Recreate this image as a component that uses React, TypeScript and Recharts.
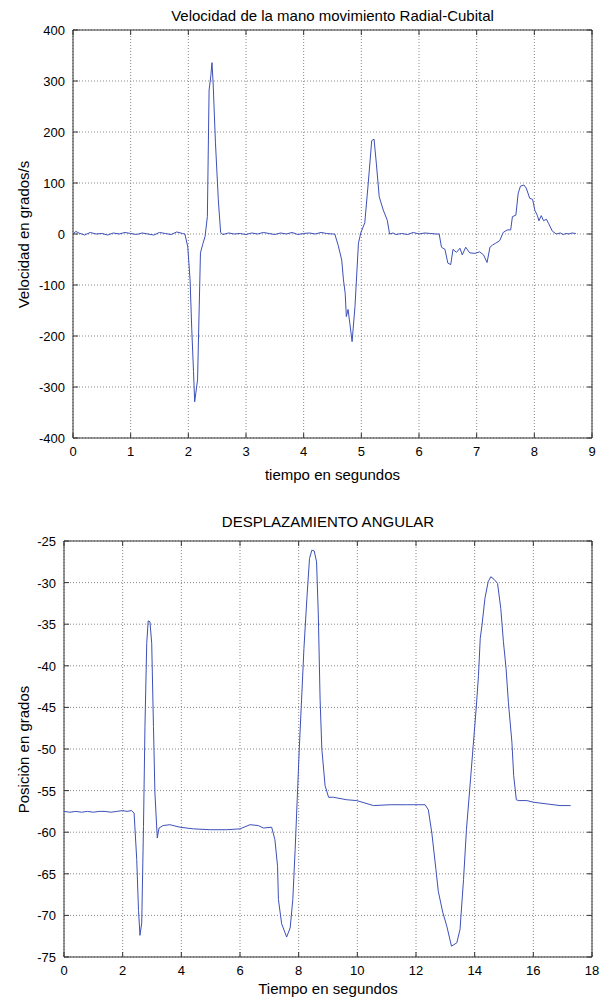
import React from 'react';
import {
  LineChart,
  Line,
  XAxis,
  YAxis,
  CartesianGrid,
  ReferenceArea,
} from 'recharts';

// Velocidad (grados/s) vs tiempo (s)
const velTime = [
  0, 0.05, 0.1, 0.2, 0.3, 0.4, 0.5, 0.6, 0.7, 0.8, 0.9, 1.0, 1.1, 1.2, 1.3, 1.4, 1.5, 1.6, 1.7, 1.8, 1.9,
  1.94, 1.99, 2.03, 2.06, 2.09, 2.11, 2.16, 2.21, 2.25, 2.29, 2.33, 2.36, 2.39, 2.41, 2.43, 2.47, 2.52, 2.56,
  2.6, 2.7, 2.8, 2.9, 3.0, 3.1, 3.2, 3.3, 3.4, 3.5, 3.6, 3.7, 3.8, 3.9, 4.0, 4.1, 4.2, 4.3, 4.4, 4.5,
  4.54, 4.6, 4.66, 4.69, 4.72, 4.74, 4.77, 4.8, 4.84, 4.89, 4.95, 4.99, 5.06, 5.12, 5.18, 5.22, 5.26, 5.31,
  5.38, 5.45, 5.49, 5.55, 5.6, 5.7, 5.8, 5.9, 6.0, 6.1, 6.2, 6.3, 6.35,
  6.39, 6.45, 6.5, 6.55, 6.59, 6.65, 6.71, 6.75, 6.81, 6.88, 6.97, 7.05, 7.12, 7.18, 7.23, 7.27, 7.33, 7.4,
  7.46, 7.53, 7.59, 7.62, 7.68, 7.72, 7.76, 7.82, 7.86, 7.92, 7.97, 8.01, 8.05, 8.08, 8.12, 8.16, 8.21, 8.25,
  8.31, 8.38, 8.45, 8.5, 8.55, 8.6, 8.65, 8.72,
];
const velValue = [
  0, 5, 2, -2, 3, 0, 1, -2, 2, 0, 3, 1, -1, 2, 0, -2, 3, 1, -1, 4, 1,
  0, -25, -90, -188, -270, -329, -286, -37, -20, -5, 34, 282, 310, 336, 296, 180, 67, 3,
  -1, 2, 0, 1, -1, 2, 0, 3, 1, -1, 2, 0, 3, -1, 1, 2, 0, 3, 1, 0,
  0, -23, -51, -90, -116, -162, -148, -175, -211, -142, -18, 2, 22, 100, 183, 186, 139, 73,
  47, 27, 0, 2, -1, 1, -1, 3, 0, 2, 1, 0, 0,
  -26, -30, -57, -60, -30, -36, -28, -41, -26, -37, -38, -35, -41, -56, -26, -22, -18, -13,
  3, 8, 8, 34, 37, 80, 94, 96, 90, 70, 68, 46, 37, 26, 36, 26, 29, 20,
  6, 0, 2, -1, 1, 0, 2, 1,
];
const velTicksX = [0, 1, 2, 3, 4, 5, 6, 7, 8, 9];
const velTicksY = [-400, -300, -200, -100, 0, 100, 200, 300, 400];

// Posicion (grados) vs tiempo (s)
const posTime = [
  0, 0.2, 0.4, 0.6, 0.8, 1.0, 1.2, 1.4, 1.6, 1.8, 2.0, 2.15, 2.3, 2.39, 2.48, 2.54, 2.59, 2.65, 2.71, 2.76,
  2.82, 2.87, 2.93, 2.99, 3.05, 3.1, 3.18, 3.24, 3.38, 3.61, 3.95, 4.41, 4.98, 5.55, 6.0, 6.34, 6.62, 6.8,
  7.08, 7.19, 7.28, 7.31, 7.42, 7.59, 7.71, 7.8, 7.88, 7.95, 8.02, 8.1, 8.18, 8.28, 8.37, 8.45, 8.53, 8.61,
  8.67, 8.73, 8.79, 8.9, 9.02, 9.18, 9.64, 9.98, 10.55, 11.12, 11.68, 12.31, 12.42, 12.54, 12.68, 12.76,
  12.91, 13.05, 13.21, 13.39, 13.5, 13.62, 13.72, 13.86, 13.95, 14.05, 14.13, 14.19, 14.25, 14.35, 14.46,
  14.55, 14.66, 14.78, 14.89, 14.98, 15.07, 15.15, 15.27, 15.33, 15.42, 15.49, 15.78, 16.01, 16.46, 16.91,
  17.27,
];
const posValue = [
  -57.5, -57.6, -57.5, -57.6, -57.5, -57.6, -57.5, -57.5, -57.6, -57.5, -57.4, -57.5, -57.4, -57.7, -63.3,
  -69.4, -72.4, -70.9, -59.3, -47.3, -37.3, -34.6, -34.7, -37.3, -47.3, -55.3, -60.7, -59.5, -59.2, -59.1,
  -59.4, -59.6, -59.7, -59.7, -59.6, -59.1, -59.2, -59.5, -59.4, -60.9, -64.1, -68.1, -71.0, -72.6, -71.5,
  -68.1, -62.1, -56.1, -50.0, -44.0, -37.9, -31.9, -27.1, -26.1, -26.2, -27.5, -33.9, -44.0, -50.0, -54.4,
  -55.8, -55.8, -56.1, -56.2, -56.8, -56.7, -56.7, -56.7, -57.3, -60.1, -64.5, -67.1, -69.6, -71.3, -73.7,
  -73.3, -71.7, -65.7, -59.7, -53.6, -49.6, -45.2, -41.2, -36.7, -35.1, -31.9, -29.9, -29.3, -29.6, -30.1,
  -33.1, -37.1, -40.3, -44.4, -49.2, -53.2, -56.1, -56.2, -56.2, -56.4, -56.6, -56.8, -56.8,
];
const posTicksX = [0, 2, 4, 6, 8, 10, 12, 14, 16, 18];
const posTicksY = [-75, -70, -65, -60, -55, -50, -45, -40, -35, -30, -25];

const FONT = '"Liberation Sans", Arial, Helvetica, sans-serif';
const AXIS = '#333';
const LINE = '#3d50b8';
const PLOT_RIGHT = 592;

const velData = velTime.map((t, i) => ({ t, v: velValue[i] }));
const posData = posTime.map((t, i) => ({ t, v: posValue[i] }));

function makeXTick(top: number) {
  return (props: any) => {
    const { x, y, payload } = props;
    return (
      <g>
        <line x1={x} x2={x} y1={y} y2={y - 5} stroke={AXIS} />
        <line x1={x} x2={x} y1={top} y2={top + 5} stroke={AXIS} />
        <text x={x} y={y + 18} textAnchor="middle" fontSize={13} fontFamily={FONT} fill="#000">
          {payload.value}
        </text>
      </g>
    );
  };
}

function makeYTick() {
  return (props: any) => {
    const { x, y, payload } = props;
    return (
      <g>
        <line x1={x} x2={x + 5} y1={y} y2={y} stroke={AXIS} />
        <line x1={PLOT_RIGHT - 5} x2={PLOT_RIGHT} y1={y} y2={y} stroke={AXIS} />
        <text x={x - 8} y={y + 5} textAnchor="end" fontSize={13} fontFamily={FONT} fill="#000">
          {payload.value}
        </text>
      </g>
    );
  };
}

interface PanelProps {
  data: { t: number; v: number }[];
  height: number;
  top: number;
  bottom: number;
  plotLeft: number;
  xDomain: [number, number];
  yDomain: [number, number];
  xTicks: number[];
  yTicks: number[];
  title: string;
  titleY: number;
  xLabel: string;
  xLabelY: number;
  yLabel: string;
  yLabelX: number;
}

function Panel(p: PanelProps) {
  const yMid = (p.top + (p.height - p.bottom)) / 2;
  const textStyle: React.CSSProperties = {
    position: 'absolute',
    fontFamily: FONT,
    fontSize: 15,
    lineHeight: '17px',
    height: 17,
    color: '#000',
    whiteSpace: 'nowrap',
  };
  return (
    <div style={{ position: 'relative', width: 605, height: p.height }}>
      <LineChart
        width={605}
        height={p.height}
        data={p.data}
        margin={{ top: p.top, right: 605 - PLOT_RIGHT, bottom: p.bottom - 1, left: p.plotLeft - 1 }}
      >
        <CartesianGrid stroke="#888" strokeDasharray="1 2" />
        <XAxis
          dataKey="t"
          type="number"
          domain={p.xDomain}
          ticks={p.xTicks}
          height={1}
          tickSize={0}
          tickMargin={0}
          axisLine={false}
          tickLine={false}
          tick={makeXTick(p.top)}
          interval={0}
          allowDataOverflow
        />
        <YAxis
          type="number"
          domain={p.yDomain}
          ticks={p.yTicks}
          width={1}
          tickSize={0}
          tickMargin={0}
          axisLine={false}
          tickLine={false}
          tick={makeYTick()}
          interval={0}
          allowDataOverflow
        />
        <ReferenceArea
          x1={p.xDomain[0]}
          x2={p.xDomain[1]}
          y1={p.yDomain[0]}
          y2={p.yDomain[1]}
          fill="none"
          fillOpacity={0}
          stroke={AXIS}
          strokeWidth={1}
        />
        <Line
          type="linear"
          dataKey="v"
          stroke={LINE}
          strokeWidth={1}
          dot={false}
          isAnimationActive={false}
        />
      </LineChart>
      <div style={{ ...textStyle, left: p.plotLeft, width: PLOT_RIGHT - p.plotLeft, top: p.titleY - 8.5, textAlign: 'center' }}>
        {p.title}
      </div>
      <div style={{ ...textStyle, left: p.plotLeft, width: PLOT_RIGHT - p.plotLeft, top: p.xLabelY - 8.5, textAlign: 'center' }}>
        {p.xLabel}
      </div>
      <div
        style={{
          ...textStyle,
          left: p.yLabelX - 150,
          top: yMid - 8.5,
          width: 300,
          textAlign: 'center',
          transform: 'rotate(-90deg)',
        }}
      >
        {p.yLabel}
      </div>
    </div>
  );
}

export default function App() {
  return (
    <div style={{ position: 'absolute', left: 0, top: 0, width: 605, height: 999, background: '#fff' }}>
      <Panel
        data={velData}
        height={500}
        top={30}
        bottom={62}
        plotLeft={73}
        xDomain={[0, 9]}
        yDomain={[-400, 400]}
        xTicks={velTicksX}
        yTicks={velTicksY}
        title="Velocidad de la mano movimiento Radial-Cubital"
        titleY={15}
        xLabel="tiempo en segundos"
        xLabelY={474}
        yLabel="Velocidad en grados/s"
        yLabelX={23}
      />
      <Panel
        data={posData}
        height={499}
        top={41}
        bottom={42}
        plotLeft={64}
        xDomain={[0, 18]}
        yDomain={[-75, -25]}
        xTicks={posTicksX}
        yTicks={posTicksY}
        title="DESPLAZAMIENTO ANGULAR"
        titleY={21}
        xLabel="Tiempo en segundos"
        xLabelY={488}
        yLabel="Posiciòn en grados"
        yLabelX={23}
      />
    </div>
  );
}
